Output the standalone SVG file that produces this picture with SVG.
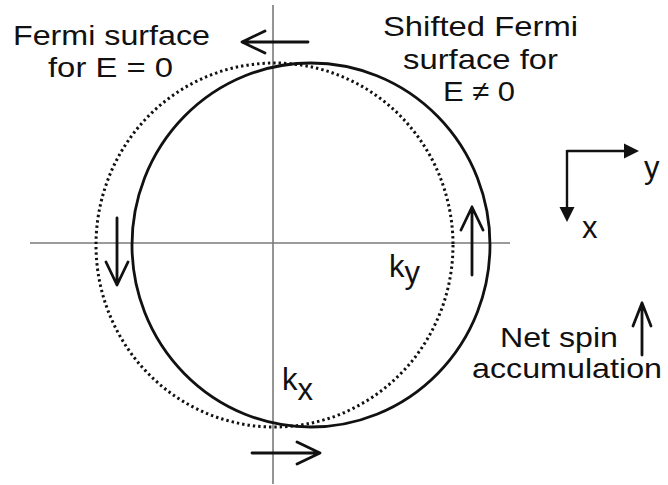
<svg xmlns="http://www.w3.org/2000/svg" width="668" height="485" viewBox="0 0 668 485">
<style>
text{font-family:"Liberation Sans",Arial,sans-serif;font-size:28px;fill:#111}
.big{font-size:31px}
.axis{stroke:#7a7a7a;stroke-width:1.6;fill:none}
.arr{stroke:#111;stroke-width:2.8;fill:none;stroke-linecap:round;stroke-linejoin:round}
.solid{stroke:#111;stroke-width:2.8;fill:none}
.dot{stroke:#111;stroke-width:3;fill:none;stroke-dasharray:2.4 3}
.fh{fill:#111}
</style>
<rect width="668" height="485" fill="#fff"/>
<g id="axes">
<line class="axis" x1="273" y1="5" x2="273" y2="484"/>
<line class="axis" x1="30" y1="243" x2="510" y2="243"/>
</g>
<g id="fermi-e0">
<ellipse class="dot" cx="274.5" cy="245" rx="178.5" ry="182"/>
</g>
<g id="fermi-shifted">
<ellipse class="solid" cx="311" cy="245" rx="179" ry="182"/>
</g>
<g id="connectors">
<path class="arr" d="M308,42 H242 M265,31 L242,42 L265,53"/>
<path class="arr" d="M252,453 H320 M297,442 L320,453 L297,464"/>
<path class="arr" d="M117,218 V285 M106,262 L117,285 L128,262"/>
<path class="arr" d="M472,275 V207 M461,230 L472,207 L483,230"/>
<path class="arr" d="M642,355 V303 M633,326 L642,303 L651,326"/>
<path d="M567,151 H628 M567,150 V212" stroke="#111" stroke-width="2.4" fill="none"/>
<polygon class="fh" points="639,151 624,143.5 624,158.5"/>
<polygon class="fh" points="567,222 559.5,207 574.5,207"/>
</g>
<g id="labels">
<text x="13" y="45" textLength="197" lengthAdjust="spacingAndGlyphs">Fermi surface</text>
<text x="48" y="77" textLength="125" lengthAdjust="spacingAndGlyphs">for E = 0</text>
<text x="383" y="36" textLength="195" lengthAdjust="spacingAndGlyphs">Shifted Fermi</text>
<text x="403" y="69" textLength="155" lengthAdjust="spacingAndGlyphs">surface for</text>
<text x="443" y="101" textLength="72" lengthAdjust="spacingAndGlyphs">E ≠ 0</text>
<text x="500" y="347" textLength="118" lengthAdjust="spacingAndGlyphs">Net spin</text>
<text x="472" y="378" textLength="190" lengthAdjust="spacingAndGlyphs">accumulation</text>
<text class="big" x="644" y="178">y</text>
<text class="big" x="582" y="238">x</text>
<text class="big" x="389" y="277">k<tspan y="283">y</tspan></text>
<text class="big" x="282" y="390">k<tspan y="400">x</tspan></text>
</g>
</svg>
